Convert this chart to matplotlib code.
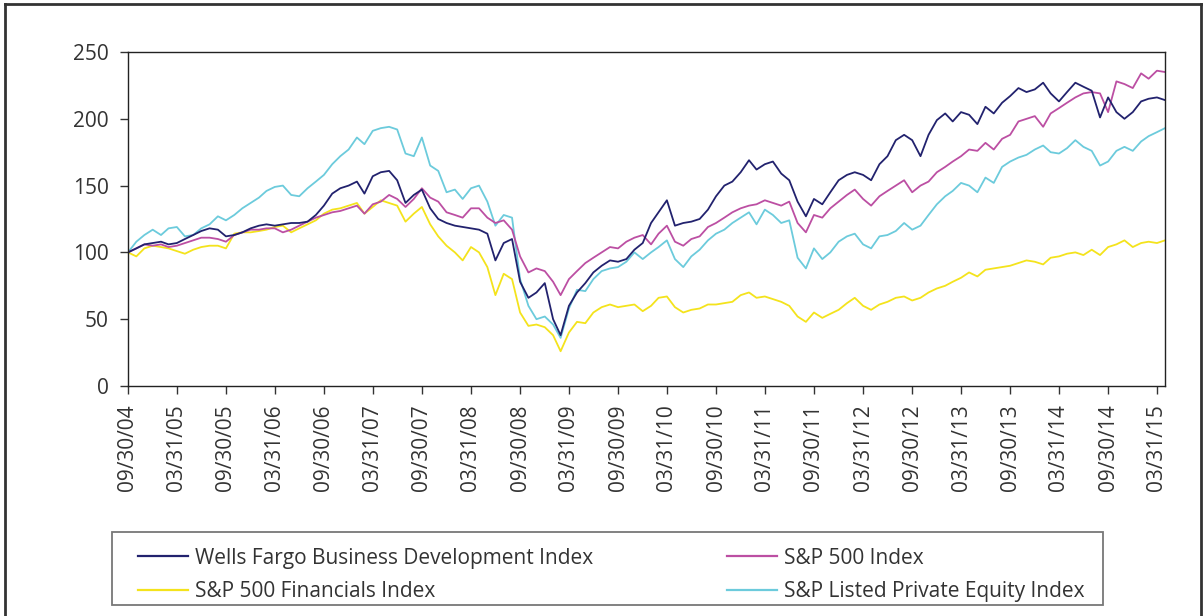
import numpy as np
import pandas as pd
import matplotlib
matplotlib.use("Agg")
import matplotlib.pyplot as plt
import matplotlib.dates as mdates
from matplotlib.lines import Line2D
from matplotlib.patches import Rectangle

plt.rcParams['font.family'] = ['Open Sans', 'DejaVu Sans']

# month-end dates, 09/2004 .. 04/2015
dates = pd.date_range('2004-09-30', periods=128, freq='ME')

wells_fargo = [
    100, 103, 106, 107, 108, 106, 107, 110, 113, 116, 118, 117, 112, 113, 115, 118,
    120, 121, 120, 121, 122, 122, 123, 128, 135, 144, 148, 150, 153, 144, 157, 160,
    161, 154, 137, 143, 147, 133, 125, 122, 120, 119, 118, 117, 114, 94, 107, 110,
    78, 66, 70, 77, 50, 38, 60, 70, 77, 85, 90, 94, 93, 95, 102, 107,
    122, 130, 139, 120, 122, 123, 125, 132, 142, 150, 153, 160, 169, 162, 166, 168,
    159, 154, 138, 127, 140, 136, 145, 154, 158, 160, 158, 154, 166, 172, 184, 188,
    184, 172, 188, 199, 204, 198, 205, 203, 196, 209, 204, 212, 217, 223, 220, 222,
    227, 219, 213, 220, 227, 224, 221, 201, 216, 205, 200, 205, 213, 215, 216, 214,
]
sp500 = [
    100, 103, 106, 105, 106, 104, 105, 107, 109, 111, 111, 110, 108, 113, 115, 117,
    117, 118, 118, 115, 117, 120, 123, 126, 128, 130, 131, 133, 135, 129, 136, 138,
    143, 140, 134, 140, 148, 141, 138, 130, 128, 126, 133, 133, 126, 122, 124, 117,
    97, 85, 88, 86, 78, 68, 80, 86, 92, 96, 100, 104, 103, 108, 111, 113,
    106, 114, 120, 108, 105, 110, 112, 119, 122, 126, 130, 133, 135, 136, 139, 137,
    135, 138, 122, 115, 128, 126, 133, 138, 143, 147, 140, 135, 142, 146, 150, 154,
    145, 150, 153, 160, 164, 168, 172, 177, 176, 182, 177, 185, 188, 198, 200, 202,
    194, 204, 208, 212, 216, 219, 220, 219, 205, 228, 226, 223, 234, 230, 236, 235,
]
sp500_financials = [
    100, 97, 103, 105, 104, 103, 101, 99, 102, 104, 105, 105, 103, 114, 115, 115,
    116, 117, 119, 120, 115, 118, 121, 124, 129, 132, 133, 135, 137, 129, 134, 139,
    137, 135, 123, 129, 134, 121, 112, 105, 100, 94, 104, 100, 89, 68, 84, 80,
    55, 45, 46, 44, 38, 26, 40, 48, 47, 55, 59, 61, 59, 60, 61, 56,
    60, 66, 67, 59, 55, 57, 58, 61, 61, 62, 63, 68, 70, 66, 67, 65,
    63, 60, 52, 48, 55, 51, 54, 57, 62, 66, 60, 57, 61, 63, 66, 67,
    64, 66, 70, 73, 75, 78, 81, 85, 82, 87, 88, 89, 90, 92, 94, 93,
    91, 96, 97, 99, 100, 98, 102, 98, 104, 106, 109, 104, 107, 108, 107, 109,
]
private_equity = [
    100, 108, 113, 117, 113, 118, 119, 112, 113, 118, 121, 127, 124, 128, 133, 137,
    141, 146, 149, 150, 143, 142, 148, 153, 158, 166, 172, 177, 186, 181, 191, 193,
    194, 192, 174, 172, 186, 165, 161, 145, 147, 140, 148, 150, 138, 120, 128, 126,
    80, 60, 50, 52, 46, 36, 58, 72, 71, 80, 86, 88, 89, 93, 100, 95,
    100, 104, 109, 95, 89, 97, 102, 109, 114, 117, 122, 126, 130, 121, 132, 128,
    122, 124, 96, 88, 103, 95, 100, 108, 112, 114, 106, 103, 112, 113, 116, 122,
    117, 120, 128, 136, 142, 146, 152, 150, 145, 156, 152, 164, 168, 171, 173, 177,
    180, 175, 174, 178, 184, 179, 176, 165, 168, 176, 179, 176, 183, 187, 190, 193,
]

names = ['Wells Fargo Business Development Index', 'S&P 500 Index',
         'S&P 500 Financials Index', 'S&P Listed Private Equity Index']
colors = ['#22226E', '#BC4FA3', '#F4E31C', '#6CCBDC']

tick_dates = pd.date_range('2004-09-30', '2015-03-31', freq='6ME')

fig = plt.figure(figsize=(12.03, 6.16), dpi=100)
ax = fig.add_axes([0.1064, 0.3734, 0.8620, 0.5422])

lw = 1.3
l_pe, = ax.plot(dates, private_equity, color=colors[3], lw=lw)
l_fin, = ax.plot(dates, sp500_financials, color=colors[2], lw=lw)
l_sp, = ax.plot(dates, sp500, color=colors[1], lw=lw)
l_wf, = ax.plot(dates, wells_fargo, color=colors[0], lw=lw)

ax.set_ylim(0, 250)
ax.set_yticks([0, 50, 100, 150, 200, 250])
ax.set_xlim(dates[0], dates[-1])
ax.set_xticks(tick_dates)
ax.xaxis.set_major_formatter(mdates.DateFormatter('%m/%d/%y'))
ax.tick_params(axis='x', rotation=90, length=6, width=1, pad=7, colors='#333333', labelsize=15)
ax.tick_params(axis='y', length=6, width=1, pad=8, colors='#333333', labelsize=15)
for sp in ax.spines.values():
    sp.set_color('#222222')
    sp.set_linewidth(1)

# legend box and entries, two columns
fig.add_artist(Rectangle((0.0931, 0.0179), 0.8238, 0.1185, transform=fig.transFigure,
                         fill=False, edgecolor='#777777', lw=1.3))
leg = fig.legend([l_wf, l_fin, l_sp, l_pe], [names[0], names[2], names[1], names[3]],
                 loc='center', bbox_to_anchor=(0.1147, 0.0466, 0.7872, 0.04),
                 mode='expand', ncol=2, fontsize=15, handlelength=2.4, handletextpad=0.35,
                 borderpad=0, borderaxespad=0, labelspacing=0.62, frameon=False,
                 labelcolor='#333333')
for h in leg.get_lines():
    h.set_linewidth(1.6)

# outer frame
for xs, ys in [([0.004, 0.004], [0.0, 0.993]), ([0.004, 0.998], [0.993, 0.993]),
               ([0.998, 0.998], [0.0, 0.993])]:
    fig.add_artist(Line2D(xs, ys, color='#333333', lw=2, transform=fig.transFigure))

fig.savefig('out.png', dpi=100)
